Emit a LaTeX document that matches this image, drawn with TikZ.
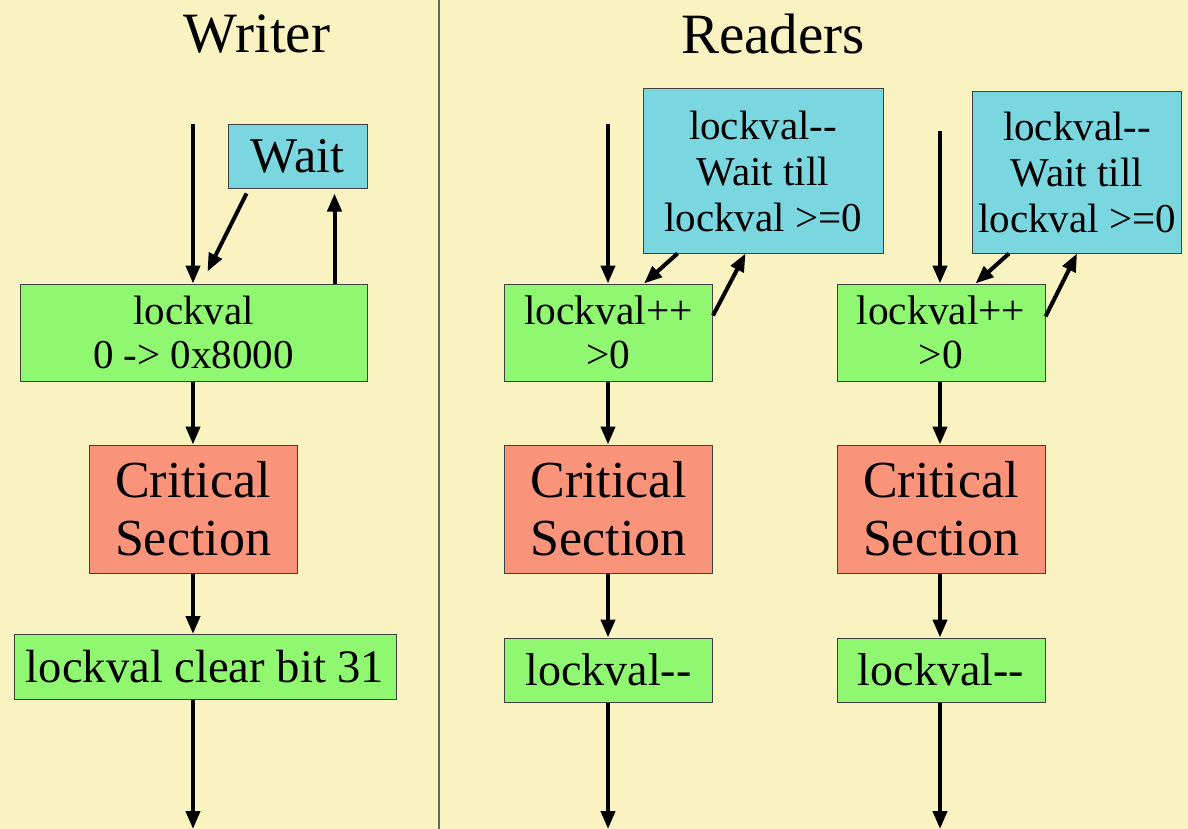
\documentclass[tikz,border=0pt]{standalone}
\usepackage{fontspec}
\setmainfont{Liberation Serif}
\newfontfamily\boxfont{Liberation Serif}
\usetikzlibrary{arrows.meta,calc}

\definecolor{paper}{HTML}{F8F3C0}
\definecolor{opgreen}{HTML}{90F870}
\definecolor{waitblue}{HTML}{7AD7E0}
\definecolor{critred}{HTML}{F99379}
\definecolor{edge}{HTML}{404040}

\tikzset{
  box/.style={draw=edge, line width=0.5pt, inner sep=0pt, align=center},
  opbox/.style={box, fill=opgreen},
  waitbox/.style={box, fill=waitblue},
  critbox/.style={box, fill=critred, font=\boxfont\fontsize{26}{29}\selectfont},
  arr/.style={line width=2pt, -{Triangle[length=9pt,width=7pt]}},
  title/.style={font=\boxfont\fontsize{28.5}{30}\selectfont}
}

\begin{document}
\begin{tikzpicture}[x=0.5pt,y=-0.5pt]
  % page
  \fill[paper] (0,0) rectangle (1188,829);
  \useasboundingbox (0,0) rectangle (1188,829);

  % column divider
  \draw[line width=0.8pt, color=gray!80!black] (439,0) -- (439,829);

  % titles
  \node[title] (tw) at (257,34) {Writer};
  \node[title] (tr) at (773,34) {Readers};

  % ---- writer column ----
  \node[waitbox, minimum width=69.5pt, minimum height=31.5pt,
        font=\boxfont\fontsize{25}{27}\selectfont] (ww) at (297.5,156.5) {Wait};
  \node[opbox, minimum width=173.5pt, minimum height=48.5pt,
        font=\boxfont\fontsize{20.5}{22}\selectfont] (wl) at (193.5,332.5) {lockval\\0 -> 0x8000};
  \node[critbox, minimum width=104pt, minimum height=64pt] (wc) at (193,509) {Critical\\Section};
  \node[opbox, minimum width=191pt, minimum height=32.5pt,
        font=\boxfont\fontsize{23.3}{25}\selectfont] (wx) at (205,667) {lockval clear bit 31};

  \coordinate (wtop) at (193,124);
  \coordinate (wbot) at (193,829);

  \draw[arr] (wtop) -- (wl.north -| wtop);
  \draw[arr] ($(ww.south west)+(19,5)$) -- ($(wl.north west)+(188,-12)$);
  \draw[arr] ($(wl.north west)+(315,0)$) -- ($(ww.south west)+(107,5)$);
  \draw[arr] (wl.south -| wtop) -- (wc.north -| wtop);
  \draw[arr] (wc.south -| wtop) -- (wx.north -| wtop);
  \draw[arr] (wx.south -| wtop) -- (wbot);

  % ---- reader columns ----
  \foreach \n/\gx/\bx/\bw/\by/\bh/\ax in {1/608.5/763/240/171/164/608, 2/941/1077/209/172.5/161/940}{
    \node[waitbox, minimum width=\bw*0.5pt, minimum height=\bh*0.5pt,
          font=\boxfont\fontsize{20.5}{23}\selectfont] (rb\n) at (\bx,\by) {lockval-{}-\\Wait till\\lockval >=0};
    \node[opbox, minimum width=104pt, minimum height=48.5pt,
          font=\boxfont\fontsize{20.7}{22}\selectfont] (rg\n) at (\gx,332.5) {lockval++\\>0};
    \node[critbox, minimum width=104pt, minimum height=64pt] (rc\n) at (\gx,509) {Critical\\Section};
    \node[opbox, minimum width=104pt, minimum height=32pt,
          font=\boxfont\fontsize{23}{25}\selectfont] (rd\n) at (\gx,670) {lockval-{}-};
    \coordinate (rbot\n) at (\ax,829);
  }
  \coordinate (rtop1) at (608,124);
  \coordinate (rtop2) at (940,131);

  \foreach \n in {1,2}{
    \draw[arr] (rtop\n) -- (rg\n.north -| rtop\n);
    \draw[arr] (rg\n.south -| rtop\n) -- (rc\n.north -| rtop\n);
    \draw[arr] (rc\n.south -| rtop\n) -- (rd\n.north -| rtop\n);
    \draw[arr] (rd\n.south -| rtop\n) -- (rbot\n);
  }

  % retry loops between the increment and the wait boxes
  \draw[arr] ($(rb1.south west)+(35,0)$) -- ($(rg1.north west)+(140,0)$);
  \draw[arr] ($(rg1.north east)+(0,32)$) -- ($(rb1.south west)+(103,0)$);
  \draw[arr] ($(rb2.south west)+(37,0)$) -- ($(rg2.north west)+(139,0)$);
  \draw[arr] ($(rg2.north east)+(0,33)$) -- ($(rb2.south west)+(105,0)$);
\end{tikzpicture}
\end{document}
